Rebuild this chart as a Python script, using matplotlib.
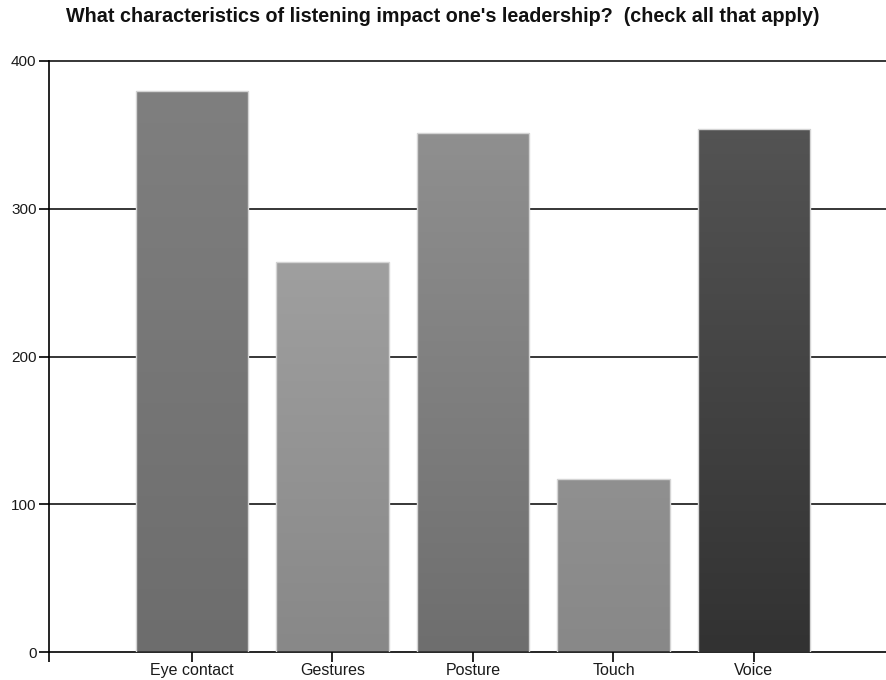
import numpy as np
import matplotlib.pyplot as plt
from matplotlib.colors import LinearSegmentedColormap

plt.rcParams['font.family'] = ['Liberation Sans', 'DejaVu Sans']

categories = ['Eye contact', 'Gestures', 'Posture', 'Touch', 'Voice']
values = [380, 264, 351, 117, 354]
# top / bottom shade of each bar
top_colors = ['#808080', '#ababab', '#949494', '#a3a3a3', '#585858']
bottom_colors = ['#6d6d6d', '#888888', '#6e6e6e', '#888888', '#323232']

fig = plt.figure(figsize=(8.86, 6.8), dpi=100)
ax = fig.add_axes([49 / 886, 28 / 680, 837 / 886, 591 / 680])

x = np.arange(len(categories))
xmin, xmax = -1.018, 4.94
ax.set_xlim(xmin, xmax)
ax.set_ylim(0, 400)

# grid lines behind bars
for yv in [100, 200, 300, 400]:
    ax.axhline(yv, color='black', lw=1.1, zorder=1, clip_on=False)

bars = ax.bar(x, values, width=0.8, color='none', edgecolor='#d4d4d4',
              linewidth=1.0, zorder=3)
for b, c1, c2 in zip(bars, top_colors, bottom_colors):
    cmap = LinearSegmentedColormap.from_list('g', [c2, c1])
    grad = np.linspace(0, 1, 256).reshape(-1, 1)
    x0, w, h = b.get_x(), b.get_width(), b.get_height()
    im = ax.imshow(grad, cmap=cmap, origin='lower', aspect='auto',
                   extent=(x0, x0 + w, 0, 400), zorder=2)
    im.set_clip_path(b)

ax.set_xlim(xmin, xmax)
ax.set_ylim(0, 400)

for s in ['top', 'right']:
    ax.spines[s].set_visible(False)
ax.spines['left'].set_linewidth(1.2)
ax.spines['bottom'].set_linewidth(1.2)

ax.set_yticks([0, 100, 200, 300, 400])
ax.set_xticks(x)
ax.set_xticklabels(categories, fontsize=11.5)
ax.set_xticks([xmin], minor=True)
ax.tick_params(axis='both', labelsize=11, color='black', width=1.2,
               length=7, direction='out', pad=2, labelcolor='#1a1a1a')
ax.tick_params(axis='x', labelsize=11.5, pad=1)
ax.tick_params(axis='x', which='minor', length=7, width=1.2)

fig.text(0.5, 1 - 17 / 680, "What characteristics of listening impact one's leadership?  (check all that apply)",
         ha='center', va='center', fontsize=14.2, fontweight='bold', color='#111111')

fig.savefig('out.png', dpi=100)
